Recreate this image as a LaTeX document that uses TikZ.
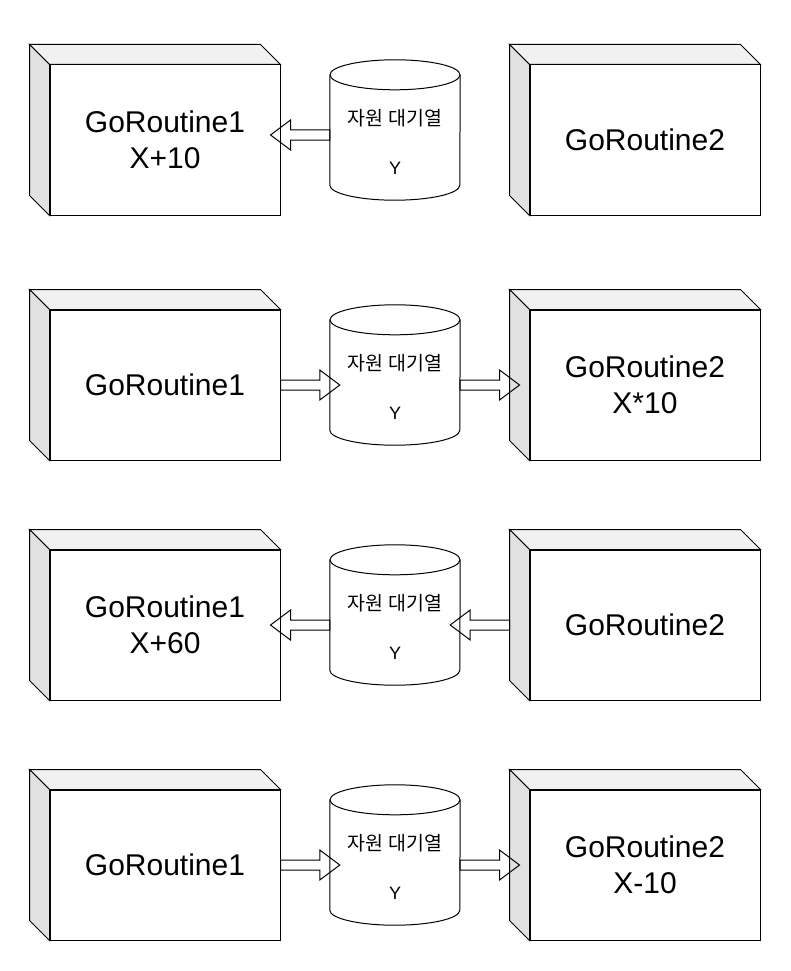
\documentclass[tikz,border=0pt]{standalone}
\usepackage{fontspec}
\setmainfont{Liberation Sans}
\newfontfamily\krfont{Noto Sans CJK KR}
\usetikzlibrary{calc}
\tikzset{
  gobox/.style={draw, line width=1pt, fill=white, minimum width=230pt, minimum height=150pt,
    inner sep=0pt, align=center, font=\fontsize{30}{36}\selectfont},
  topface/.style={draw, line width=1pt, fill=topgray},
  sideface/.style={draw, line width=1pt, fill=sidegray},
  cylbox/.style={draw=none, minimum width=130pt, minimum height=140pt, inner sep=0pt},
  cylline/.style={draw, line width=1pt, fill=white},
  qtext/.style={inner sep=0pt, font=\fontsize{18}{22}\selectfont},
  krtext/.style={inner sep=0pt, font=\fontsize{19.5}{22}\krfont},
  blk/.style={draw, line width=1pt, fill=none},
}
\definecolor{topgray}{HTML}{F1F1F1}
\definecolor{sidegray}{HTML}{E1E1E1}
\newcommand\gobox[3]{%
  \node[gobox] (#1) at #2 {#3};
  \draw[topface] (#1.north west) -- ([shift={(-20pt,20pt)}]#1.north west) -- ([shift={(-20pt,20pt)}]#1.north east) -- (#1.north east) -- cycle;
  \draw[sideface] (#1.north west) -- ([shift={(-20pt,20pt)}]#1.north west) -- ([shift={(-20pt,20pt)}]#1.south west) -- (#1.south west) -- cycle;
}
\newcommand\queue[2]{%
  \node[cylbox] (#1) at #2 {};
  \draw[cylline] ([yshift=-15pt]#1.north west) -- ([yshift=15pt]#1.south west)
     arc[start angle=180, end angle=360, x radius=65pt, y radius=15pt]
     -- ([yshift=-15pt]#1.north east);
  \draw[cylline] ([yshift=-15pt]#1.north) ellipse [x radius=65pt, y radius=15pt];
  \node[krtext] (#1k) at ([yshift=12pt]#1.center) {자원 대기열};
  \node[qtext] (#1y) at ([yshift=-38pt]#1.center) {Y};
}
% horizontal block arrow from #1 (start, sets the height) to the tip #2
\newcommand\blockarrow[2]{%
  \draw[blk] let \p1=#1, \p2=#2, \p3=($(\x2,\y1)!20pt!(\x1,\y1)$) in
    (\x1,\y1+5pt) -- (\x3,\y1+5pt) -- (\x3,\y1+15pt) -- (\x2,\y1)
    -- (\x3,\y1-15pt) -- (\x3,\y1-5pt) -- (\x1,\y1-5pt) -- cycle;
}
\begin{document}
\begin{tikzpicture}[x=1pt, y=-1pt]
\useasboundingbox (0,0) rectangle (791,971);
% row 1
\gobox{g1}{(165,140)}{GoRoutine1\\X+10}
\gobox{g2}{(645,140)}{GoRoutine2}
\queue{c1}{(395,130)}
% row 2
\gobox{g3}{(165,385)}{GoRoutine1}
\gobox{g4}{(645,385)}{GoRoutine2\\X*10}
\queue{c2}{(395,375)}
% row 3
\gobox{g5}{(165,625)}{GoRoutine1\\X+60}
\gobox{g6}{(645,625)}{GoRoutine2}
\queue{c3}{(395,615)}
% row 4
\gobox{g7}{(165,865)}{GoRoutine1}
\gobox{g8}{(645,865)}{GoRoutine2\\X-10}
\queue{c4}{(395,855)}
% arrows
\blockarrow{([yshift=-5pt]c1.west)}{([xshift=-10pt]g1.east)}
\blockarrow{(g3.east)}{([xshift=10pt]c2.west)}
\blockarrow{([yshift=-10pt]c2.east)}{([xshift=-10pt]g4.west)}
\blockarrow{([yshift=-10pt]c3.west)}{([xshift=-10pt]g5.east)}
\blockarrow{([xshift=-20pt]g6.west)}{([xshift=-10pt]c3.east)}
\blockarrow{(g7.east)}{([xshift=10pt]c4.west)}
\blockarrow{([yshift=-10pt]c4.east)}{([xshift=-10pt]g8.west)}
\end{tikzpicture}
\end{document}
